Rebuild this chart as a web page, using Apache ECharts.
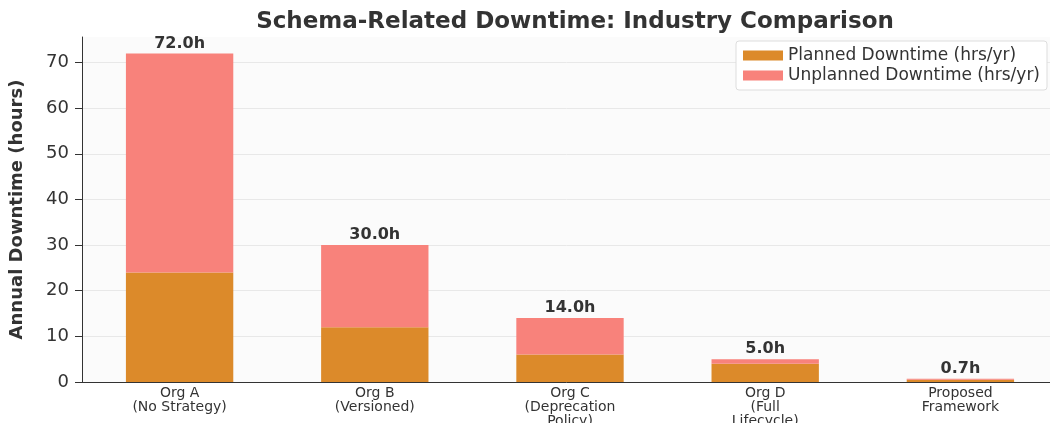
<!DOCTYPE html>
<html>
<head>
<meta charset="utf-8">
<script src="https://cdn.jsdelivr.net/npm/echarts@6/dist/echarts.min.js"></script>
<style>
  html, body { margin: 0; padding: 0; background: #fff; }
  #chart { width: 1050px; height: 423px; }
</style>
</head>
<body>
<div id="chart"></div>
<script>
const categories = [
	'Org A\n(No Strategy)',
	'Org B\n(Versioned)',
	'Org C\n(Deprecation\nPolicy)',
	'Org D\n(Full\nLifecycle)',
	'Proposed\nFramework',
];
const planned = [24, 12, 6, 4, 0.5];
const unplanned = [48, 18, 8, 1, 0.2];
const totals = [72.0, 30.0, 14.0, 5.0, 0.7];
const yTicks = [0, 10, 20, 30, 40, 50, 60, 70];

const font = 'DejaVu Sans';
const chart = echarts.init(document.getElementById('chart'));

chart.setOption({
	animation: false,
	textStyle: {fontFamily: font},
	title: {
		text: 'Schema-Related Downtime: Industry Comparison',
		left: 570,
		textAlign: 'center',
		top: 6,
		textStyle: {fontSize: 23, fontWeight: 'bold', color: '#333', fontFamily: font},
	},
	legend: {
		orient: 'vertical',
		right: 3,
		top: 41,
		icon: 'rect',
		itemWidth: 40,
		itemHeight: 10,
		itemGap: 3,
		padding: [6, 7, 6, 7],
		backgroundColor: '#fff',
		borderColor: '#ddd',
		borderWidth: 1,
		borderRadius: 3,
		textStyle: {fontSize: 17, color: '#333', fontFamily: font},
		data: ['Planned Downtime (hrs/yr)', 'Unplanned Downtime (hrs/yr)'],
	},
	grid: {
		left: 82,
		right: -8,
		top: 37,
		bottom: 41,
		outerBoundsMode: 'none',
		containLabel: false,
		show: true,
		backgroundColor: '#fbfbfb',
		borderWidth: 0,
	},
	xAxis: {
		type: 'category',
		data: categories,
		boundaryGap: true,
		axisLine: {lineStyle: {color: '#333', width: 1}},
		axisTick: {alignWithLabel: true, length: 6, lineStyle: {color: '#333'}},
		axisLabel: {fontSize: 14, color: '#333', margin: 4, lineHeight: 14, interval: 0},
	},
	yAxis: {
		type: 'value',
		min: 0,
		max: 75.6,
		interval: 10,
		name: 'Annual Downtime (hours)',
		nameLocation: 'middle',
		nameGap: 56,
		nameTextStyle: {fontSize: 18, fontWeight: 'bold', color: '#333', fontFamily: font},
		axisLine: {show: true, lineStyle: {color: '#333', width: 1}},
		axisTick: {show: true, length: 7, lineStyle: {color: '#333'}, customValues: yTicks},
		axisLabel: {fontSize: 18, color: '#333', margin: 13, customValues: yTicks},
		splitLine: {show: true, lineStyle: {color: '#e8e8e8', width: 1}},
	},
	series: [
		{
			name: 'Planned Downtime (hrs/yr)',
			type: 'bar',
			stack: 'total',
			barWidth: '55%',
			data: planned,
			itemStyle: {color: '#dc8a2a'},
		},
		{
			name: 'Unplanned Downtime (hrs/yr)',
			type: 'bar',
			stack: 'total',
			barWidth: '55%',
			data: unplanned,
			itemStyle: {color: '#f8827b'},
			label: {
				show: true,
				position: 'top',
				distance: 2,
				fontSize: 16,
				fontWeight: 'bold',
				color: '#333',
				formatter: p => totals[p.dataIndex].toFixed(1) + 'h',
			},
		},
	],
});
</script>
</body>
</html>
